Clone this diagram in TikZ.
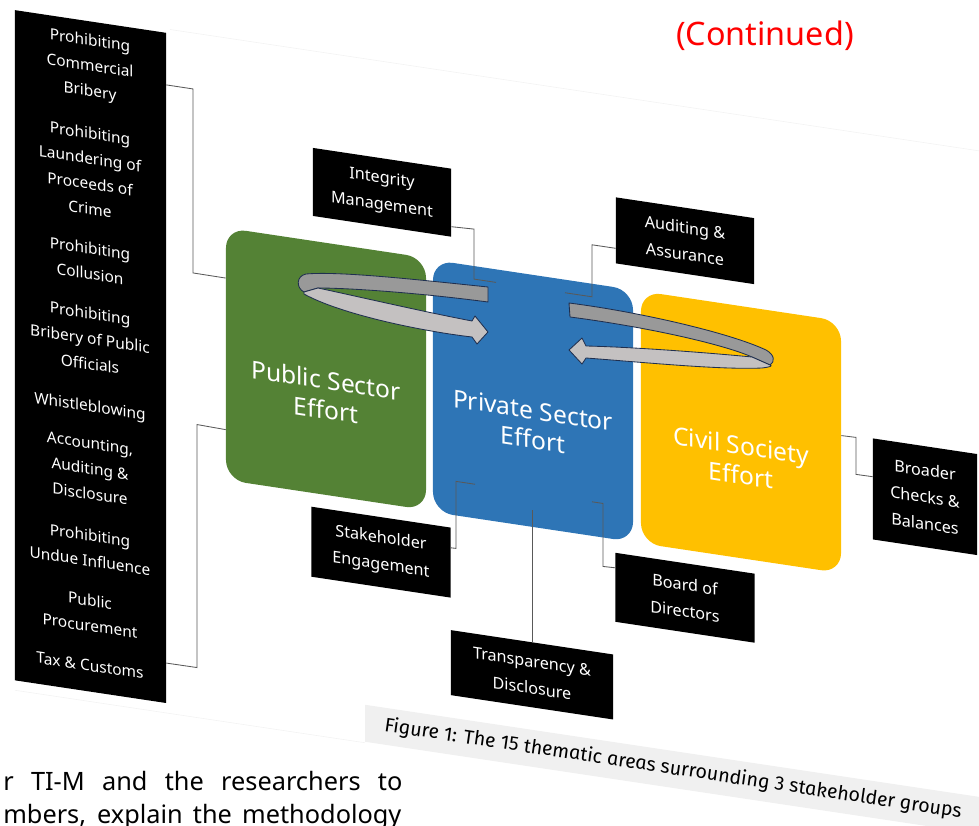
\documentclass[tikz,border=0pt]{standalone}
\usepackage{fontspec}
\setmainfont{Noto Sans}
\newfontfamily\capfont{Fira Sans}
\usetikzlibrary{calc}

\definecolor{publicgreen}{HTML}{548235}
\definecolor{privateblue}{HTML}{2E75B6}
\definecolor{civilyellow}{HTML}{FFC000}
\definecolor{ribbonback}{HTML}{999999}
\definecolor{ribbonfront}{HTML}{C4C1C1}
\definecolor{ribbonline}{HTML}{1F2F4F}

\begin{document}
\begin{tikzpicture}[x=0.025cm, y=-0.025cm,
    sector/.style={rounded corners=0.5cm, minimum width=5cm, minimum height=6.3cm, inner sep=0pt},
    sectortext/.style={text=white, align=center, font=\fontsize{17.5}{21}\selectfont},
    area/.style={text=white, align=center, inner sep=0pt, font=\fontsize{11}{18}\selectfont},
    tag/.style={fill=black, text=white, align=center, inner sep=0pt, font=\fontsize{11.5}{19}\selectfont},
    conn/.style={draw=black!65, line width=0.6pt},
    ribbon/.style={draw=ribbonline, line width=0.6pt, line join=round}]
    \path[use as bounding box, clip] (0,0) rectangle (979,826);

    % slanted figure
    \begin{scope}[yslant=-0.15, transform shape]
        \draw[black!5] (170,4) -- (979,4);
        \draw[black!5] (15,688) -- (365,688);
        \fill[black!6] (365,650) rectangle (1000,687);
        \node[font=\capfont\itshape\fontsize{14}{16}\selectfont] (caption) at (673,668) {Figure 1: The 15 thematic areas surrounding 3 stakeholder groups};

        % thematic areas of the public sector
        \node[fill=black, minimum width=3.775cm, minimum height=16.75cm, inner sep=0pt] (areas) at (90.5,343) {};
        \node[area] (commercial) at (90,53.5) {Prohibiting\\Commercial\\Bribery};
        \node[area] (laundering) at (90,157.5) {Prohibiting\\Laundering of\\Proceeds of\\Crime};
        \node[area] (collusion) at (90,247.5) {Prohibiting\\Collusion};
        \node[area] (officials) at (90,325) {Prohibiting\\Bribery of Public\\Officials};
        \node[area] (whistle) at (90,394) {Whistleblowing};
        \node[area] (accounting) at (90,455) {Accounting,\\Auditing \&\\Disclosure};
        \node[area] (undue) at (90,534.5) {Prohibiting\\Undue Influence};
        \node[area] (procurement) at (90,599.5) {Public\\Procurement};
        \node[area] (tax) at (90,652) {Tax \& Customs};

        % stakeholder groups
        \node[sector, fill=publicgreen] (public) at (326,320) {};
        \node[sector, fill=privateblue] (private) at (533,321) {};
        \node[sector, fill=civilyellow] (civil) at (741,321) {};
        \node[sectortext] (publicT) at (326,346) {Public Sector\\Effort};
        \node[sectortext] (privateT) at (533,345) {Private Sector\\Effort};
        \node[sectortext] (civilT) at (741,349) {Civil Society\\Effort};

        % thematic areas of the private sector
        \node[tag, minimum width=3.45cm, minimum height=1.7cm] (integrity) at (382,135) {Integrity\\Management};
        \node[tag, minimum width=3.45cm, minimum height=1.65cm] (auditing) at (685,138) {Auditing \&\\Assurance};
        \node[tag, minimum width=2.6cm, minimum height=2.525cm] (checks) at (925,358) {Broader\\Checks \&\\Balances};
        \node[tag, minimum width=3.475cm, minimum height=1.75cm] (stakeholder) at (381,495) {Stakeholder\\Engagement};
        \node[tag, minimum width=3.475cm, minimum height=1.725cm] (board) at (685,495) {Board of\\Directors};
        \node[tag, minimum width=4.05cm, minimum height=1.625cm] (transparency) at (532,595) {Transparency \&\\Disclosure};

        \coordinate (integrityEnd) at (496,208);
        \coordinate (auditingEnd) at (565,208);
        \coordinate (stakeholderEnd) at (475,413);
        \coordinate (boardEnd) at (592,413);
        \coordinate (transparencyEnd) at (532,430);
    \end{scope}

    % ribbon arrows
    \draw[ribbon, fill=ribbonback] (488,287) .. controls (420,280) and (340,271) .. (306,274)
        .. controls (296,276) and (296,288) .. (304,292) -- (318,288)
        .. controls (350,288) and (420,293) .. (488,302) -- cycle;
    \draw[ribbon, fill=ribbonfront] (304,292) -- (318,288) .. controls (360,297) and (420,311) .. (472,321)
        -- (475,316) -- (488,332) -- (477,344) -- (472,337)
        .. controls (420,331) and (340,314) .. (304,294) -- cycle;
    \draw[ribbon, fill=ribbonback] (569,303) .. controls (640,312) and (730,333) .. (766,350)
        .. controls (775,355) and (775,362) .. (770,365) -- (752,357)
        .. controls (720,343) and (640,326) .. (570,317) -- cycle;
    \draw[ribbon, fill=ribbonfront] (752,357) .. controls (700,352) and (630,347) .. (586,346)
        -- (582,338) -- (569,350) -- (582,364) -- (586,358)
        .. controls (640,362) and (720,370) .. (762,368)
        .. controls (770,367) and (773,366) .. (770,365) -- cycle;

    % connectors
    \begin{scope}[yslant=-0.15]
        \draw[conn] ($(areas.north east)!.078!(areas.south east)$) -- (193,60) -- (193,244) -- ($(public.north west)!.2!(public.south west)$);
        \draw[conn] ($(areas.north east)!.94!(areas.south east)$) -- (197,638) -- (197,395) -- ($(public.north west)!.8!(public.south west)$);
        \draw[conn] ($(integrity.north east)!.85!(integrity.south east)$) -- (474,158) -- (474,208) -- (integrityEnd);
        \draw[conn] ($(auditing.north west)!.77!(auditing.south west)$) -- (592,156) -- (592,208) -- (auditingEnd);
        \draw[conn] ($(civil.north east)!.454!(civil.south east)$) -- (856,309) -- (856,346) -- ($(checks.north west)!.38!(checks.south west)$);
        \draw[conn] ($(stakeholder.north east)!.29!(stakeholder.south east)$) -- (456,480) -- (456,413) -- (stakeholderEnd);
        \draw[conn] ($(board.north west)!.22!(board.south west)$) -- (603,476) -- (603,413) -- (boardEnd);
        \draw[conn] (transparency.north) -- (transparencyEnd);
    \end{scope}

    \node[text=red, font=\fontsize{23}{27}\selectfont] (continued) at (765,36) {(Continued)};
    \node[anchor=base west, inner sep=0pt, font=\fontsize{18}{22}\selectfont] (bodyA) at (3,790) {\makebox[9.975cm][s]{r TI-M and the researchers to}};
    \node[anchor=base west, inner sep=0pt, font=\fontsize{18}{22}\selectfont] (bodyB) at (3,823) {\makebox[9.95cm][s]{mbers, explain the methodology}};
\end{tikzpicture}
\end{document}
